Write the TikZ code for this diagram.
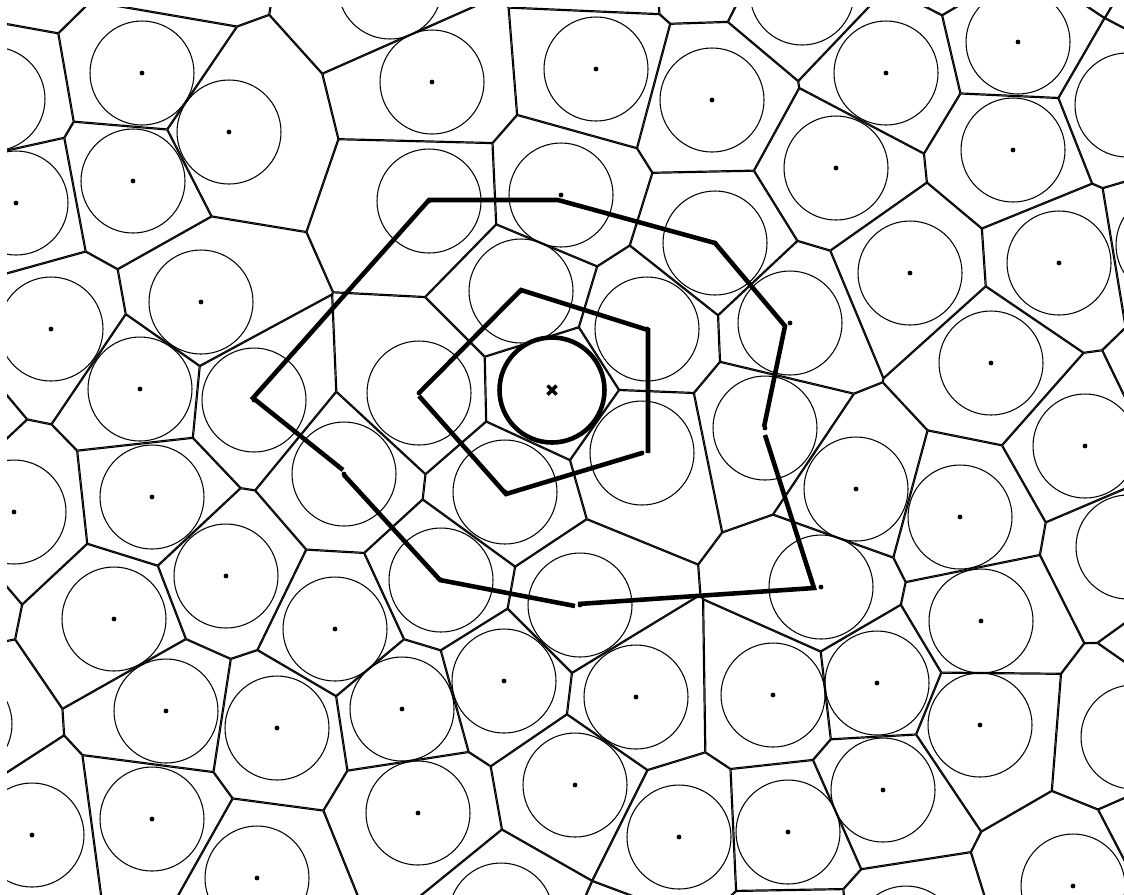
\documentclass[tikz,border=0pt]{standalone}
\begin{document}
\begin{tikzpicture}[x=0.02cm, y=-0.02cm,
    vedge/.style={line width=1.25pt},
    cellcircle/.style={line width=0.6pt},
    ring/.style={line width=2.6pt},
    sitedot/.style={fill=black}]
    % 画布
    \useasboundingbox (0,0) rectangle (1124,894);
    \fill[white] (0,0) rectangle (1124,894);

    % 站点（像素坐标）
    \def\sites{142/73, 229/132, 133/181, 16/203, -7/99, 432/82, 390/-13, 429/201,
      561/195, 596/69, 712/100, 802/-7, 836/168, 715/243, 886/73, 1018/42,
      1013/150, 1127/105, 910/273, 1059/263, 1168/245, 201/302, 51/329, 521/291,
      647/329, 790/323, 991/363, 140/389, 254/400, 419/393, 552/390, 765/428,
      1085/446, 14/512, 152/497, 344/474, 505/492, 642/453, 856/489, 960/517,
      1128/547, 226/576, 114/619, 441/580, 580/605, 821/587, 981/621, 335/629,
      504/681, 636/697, 773/695, 877/683, 166/711, 277/728, 402/709, -40/724,
      980/725, 1133/737, 575/785, 883/790, 32/835, 152/819, 418/813, 679/837,
      788/832, 257/878, 1073/886, 501/915, 906/938}
    % 画面外的站点
    \def\ghosts{20/-51, 163/-49, 601/-46, 707/-55, 956/-64, 1093/-71, 1189/-13,
      -66/427, -68/582, 1198/644, 1175/833, 1188/396, 629/971, 790/948}
    \edef\allsites{\sites, \ghosts}

    \begin{scope}
        \clip (7,7) rectangle (1124,894);

        % Voronoi 边：每个单元裁剪后画平分线
        \foreach \ax/\ay in \allsites {
            \begin{scope}
                \gdef\cedges{}
                \foreach \bx/\by in \allsites {
                    \pgfmathparse{(abs(\bx-(\ax))<300)&&(abs(\by-(\ay))<300)&&((\bx!=\ax)||(\by!=\ay))}
                    \ifdim\pgfmathresult pt>0.5pt
                        \pgfmathsetmacro\ddx{\bx-(\ax)}
                        \pgfmathsetmacro\ddy{\by-(\ay)}
                        \pgfmathsetmacro\dl{veclen(\ddx,\ddy)}
                        \pgfmathsetmacro\ux{\ddx/\dl}
                        \pgfmathsetmacro\uy{\ddy/\dl}
                        \pgfmathsetmacro\mx{(\ax+\bx)/2}
                        \pgfmathsetmacro\my{(\ay+\by)/2}
                        \pgfmathsetmacro\pax{\mx-1500*\uy}
                        \pgfmathsetmacro\pay{\my+1500*\ux}
                        \pgfmathsetmacro\pbx{\mx+1500*\uy}
                        \pgfmathsetmacro\pby{\my-1500*\ux}
                        \pgfmathsetmacro\pcx{\pbx-1500*\ux}
                        \pgfmathsetmacro\pcy{\pby-1500*\uy}
                        \pgfmathsetmacro\pdx{\pax-1500*\ux}
                        \pgfmathsetmacro\pdy{\pay-1500*\uy}
                        \clip (\pax,\pay) -- (\pbx,\pby) -- (\pcx,\pcy) -- (\pdx,\pdy) -- cycle;
                        \xdef\cedges{\cedges (\pax,\pay) -- (\pbx,\pby)}
                    \fi
                }
                \edef\tmp{\noexpand\draw[vedge] \cedges;}\tmp
            \end{scope}
        }

        % 圆和站点
        \foreach \ax/\ay in \sites {
            \draw[cellcircle] (\ax,\ay) circle[radius=52];
            \fill[sitedot] (\ax,\ay) circle[radius=2.4];
        }
    \end{scope}

    % 外环
    \draw[ring] (343,470) -- (253,398) -- (429,200) -- (558,200) -- (715,243) -- (785,326) -- (764,427);
    \draw[ring] (765,435) -- (814,588) -- (578,604);
    \draw[ring] (575,606) -- (440,580) -- (344,475);

    % 内环
    \draw[ring] (648,453) -- (648,330) -- (521,290) -- (419,393);
    \draw[ring] (419,396) -- (506,494) -- (642,453);

    % 中心
    \draw[ring] (552,390) circle[radius=52.5];
    \draw[line width=2pt] (547.5,385.5) -- (556.5,394.5) (547.5,394.5) -- (556.5,385.5);
\end{tikzpicture}
\end{document}
